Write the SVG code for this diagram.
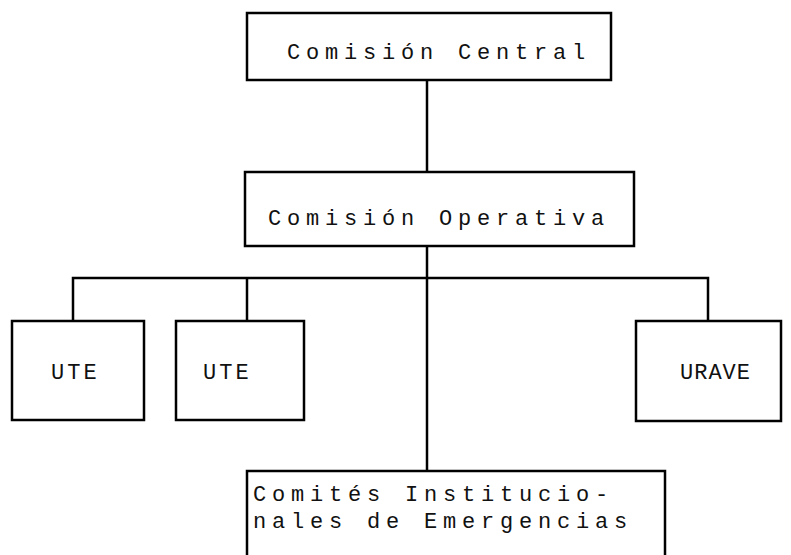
<svg xmlns="http://www.w3.org/2000/svg" width="791" height="555" viewBox="0 0 791 555">
<style>
.box{fill:#fff;stroke:#000;stroke-width:2.5}
.ln{fill:none;stroke:#000;stroke-width:2.5}
text{font-family:"Liberation Mono","DejaVu Sans Mono",monospace;font-size:22px;fill:#111;letter-spacing:5.8px}
.s{letter-spacing:3px}
.u{letter-spacing:1px}
</style>
<rect width="791" height="555" fill="#fff"/>
<g id="connectors">
<line class="ln" x1="427" y1="80" x2="427" y2="172"/>
<line class="ln" x1="427" y1="246" x2="427" y2="471"/>
<polyline class="ln" points="73,321 73,278 708,278 708,321"/>
<line class="ln" x1="247" y1="278" x2="247" y2="321"/>
</g>
<g id="central">
<rect class="box" x="247" y="13" width="364" height="67"/>
<text x="287" y="59">Comisión Central</text>
</g>
<g id="operativa">
<rect class="box" x="245" y="172" width="389" height="74"/>
<text x="268" y="225">Comisión Operativa</text>
</g>
<g id="ute1">
<rect class="box" x="12" y="321" width="132" height="99"/>
<text class="s" x="51" y="379">UTE</text>
</g>
<g id="ute2">
<rect class="box" x="176" y="321" width="128" height="99"/>
<text class="s" x="203" y="379">UTE</text>
</g>
<g id="urave">
<rect class="box" x="636" y="321" width="145" height="100"/>
<text class="u" x="680" y="379">URAVE</text>
</g>
<g id="comites">
<rect class="box" x="247" y="471" width="418" height="90"/>
<text x="253" y="501">Comités Institucio-</text>
<text x="253" y="528">nales de Emergencias</text>
</g>
</svg>
